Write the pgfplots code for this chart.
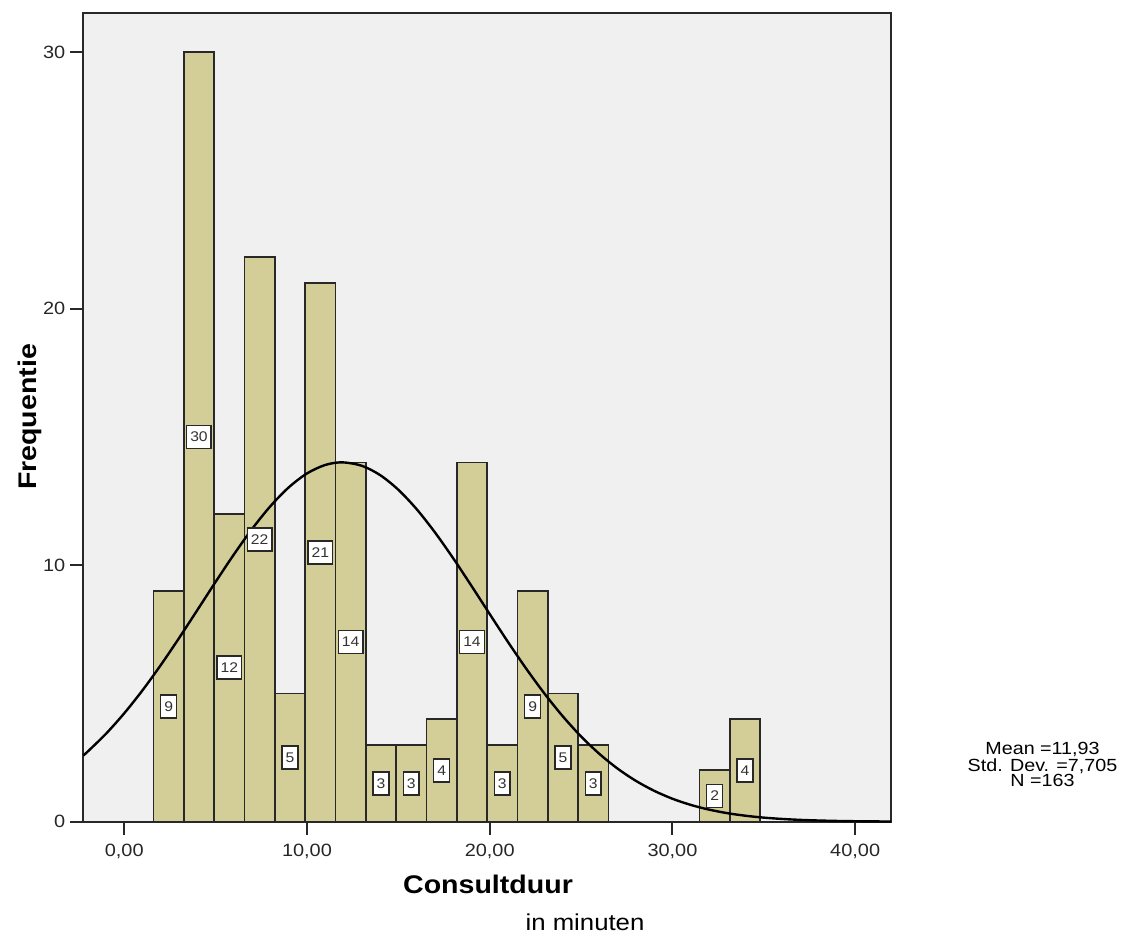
\documentclass[border=0pt]{standalone}
\usepackage{fontspec}
\setmainfont{Liberation Sans}[FakeStretch=1.12]
\usepackage{pgfplots}
\pgfplotsset{compat=1.18}
\usepackage{pgfplotstable}
\definecolor{barfill}{RGB}{211,206,151}
\definecolor{bggray}{RGB}{240,240,240}
\definecolor{frame}{RGB}{40,40,40}

\pgfplotstableread{
x n
1.60 9
3.26 30
4.92 12
6.58 22
8.24 5
9.90 21
11.56 14
13.22 3
14.88 3
16.54 4
18.20 14
19.86 3
21.52 9
23.18 5
24.84 3
26.50 0
28.16 0
29.82 0
31.48 2
33.14 4
34.80 0
}\bins

\pgfplotstableread{
x n h
2.43 9 4.5
4.09 30 15
5.75 12 6
7.41 22 11
9.07 5 2.5
10.73 21 10.5
12.39 14 7
14.05 3 1.5
15.71 3 1.5
17.37 4 2
19.03 14 7
20.69 3 1.5
22.35 9 4.5
24.01 5 2.5
25.67 3 1.5
32.31 2 1
33.97 4 2
}\labels

\pgfplotstableread{
x y
-2.24 2.58
-2 2.733
-1 3.427
0 4.226
1 5.122
2 6.106
3 7.158
4 8.250
5 9.349
6 10.418
7 11.417
8 12.301
9 13.032
10 13.577
11 13.908
11.93 14.01
13 13.876
14 13.514
15 12.941
16 12.186
17 11.282
18 10.272
19 9.196
20 8.095
21 7.006
22 5.964
23 4.992
24 4.108
25 3.323
26 2.645
27 2.069
28 1.592
29 1.204
30 0.895
31 0.655
32 0.471
33 0.333
34 0.232
35 0.158
36 0.107
37 0.070
38 0.046
39 0.029
40 0.018
41 0.011
41.96 0.007
}\curve

\begin{document}
\begin{tikzpicture}
\useasboundingbox (-41.65pt,-57.15pt) rectangle (520.85pt,410.85pt);
\begin{axis}[
  at={(0,0)}, anchor=south west,
  scale only axis,
  width=403.85pt, height=404.5pt,
  xmin=-2.24, xmax=41.96,
  ymin=0, ymax=31.54,
  axis background/.style={fill=bggray},
  axis line style={frame, line width=1pt},
  tick align=outside,
  tick style={frame, line width=1pt},
  major tick length=6.5pt,
  xtick pos=bottom, ytick pos=left,
  xtick={0,10,20,30,40},
  xticklabels={{0,00},{10,00},{20,00},{30,00},{40,00}},
  ytick={0,10,20,30},
  yticklabels={0,10,20,30},
  ticklabel style={font=\fontsize{8.9}{10}\selectfont, text=black!85},
  xticklabel style={yshift=-1pt},
  yticklabel style={xshift=1pt},
  clip=false,
]
\addplot[ybar interval, fill=barfill, draw=frame, line width=0.9pt] table[x=x, y=n] {\bins};
\addplot[smooth, black, line width=1.2pt, mark=none] table[x=x, y=y] {\curve};
\addplot[draw=none, mark=none, nodes near coords={\pgfplotspointmeta}, point meta=explicit symbolic,
  nodes near coords style={anchor=center, fill=white, draw=frame, line width=0.8pt,
    font=\fontsize{7}{8}\selectfont, inner xsep=1.8pt, inner ysep=0pt, minimum height=11.5pt, text=black!80}]
  table[x=x, y=h, meta=n] {\labels};
\end{axis}
\node[rotate=90, font=\fontsize{12.75}{14}\selectfont\bfseries] at (-26.5pt,202.35pt) {Frequentie};
\node[font=\fontsize{12.75}{14}\selectfont\bfseries] at (202.35pt,-31.15pt) {Consultduur};
\node[font=\fontsize{11.5}{13}\selectfont] at (250.85pt,-50.15pt) {in minuten};
\node[font=\fontsize{8.8}{7.4}\selectfont, align=center] at (479.6pt,28.6pt) {Mean =11,93\\Std. Dev. =7,705\\N =163};
\end{tikzpicture}
\end{document}
